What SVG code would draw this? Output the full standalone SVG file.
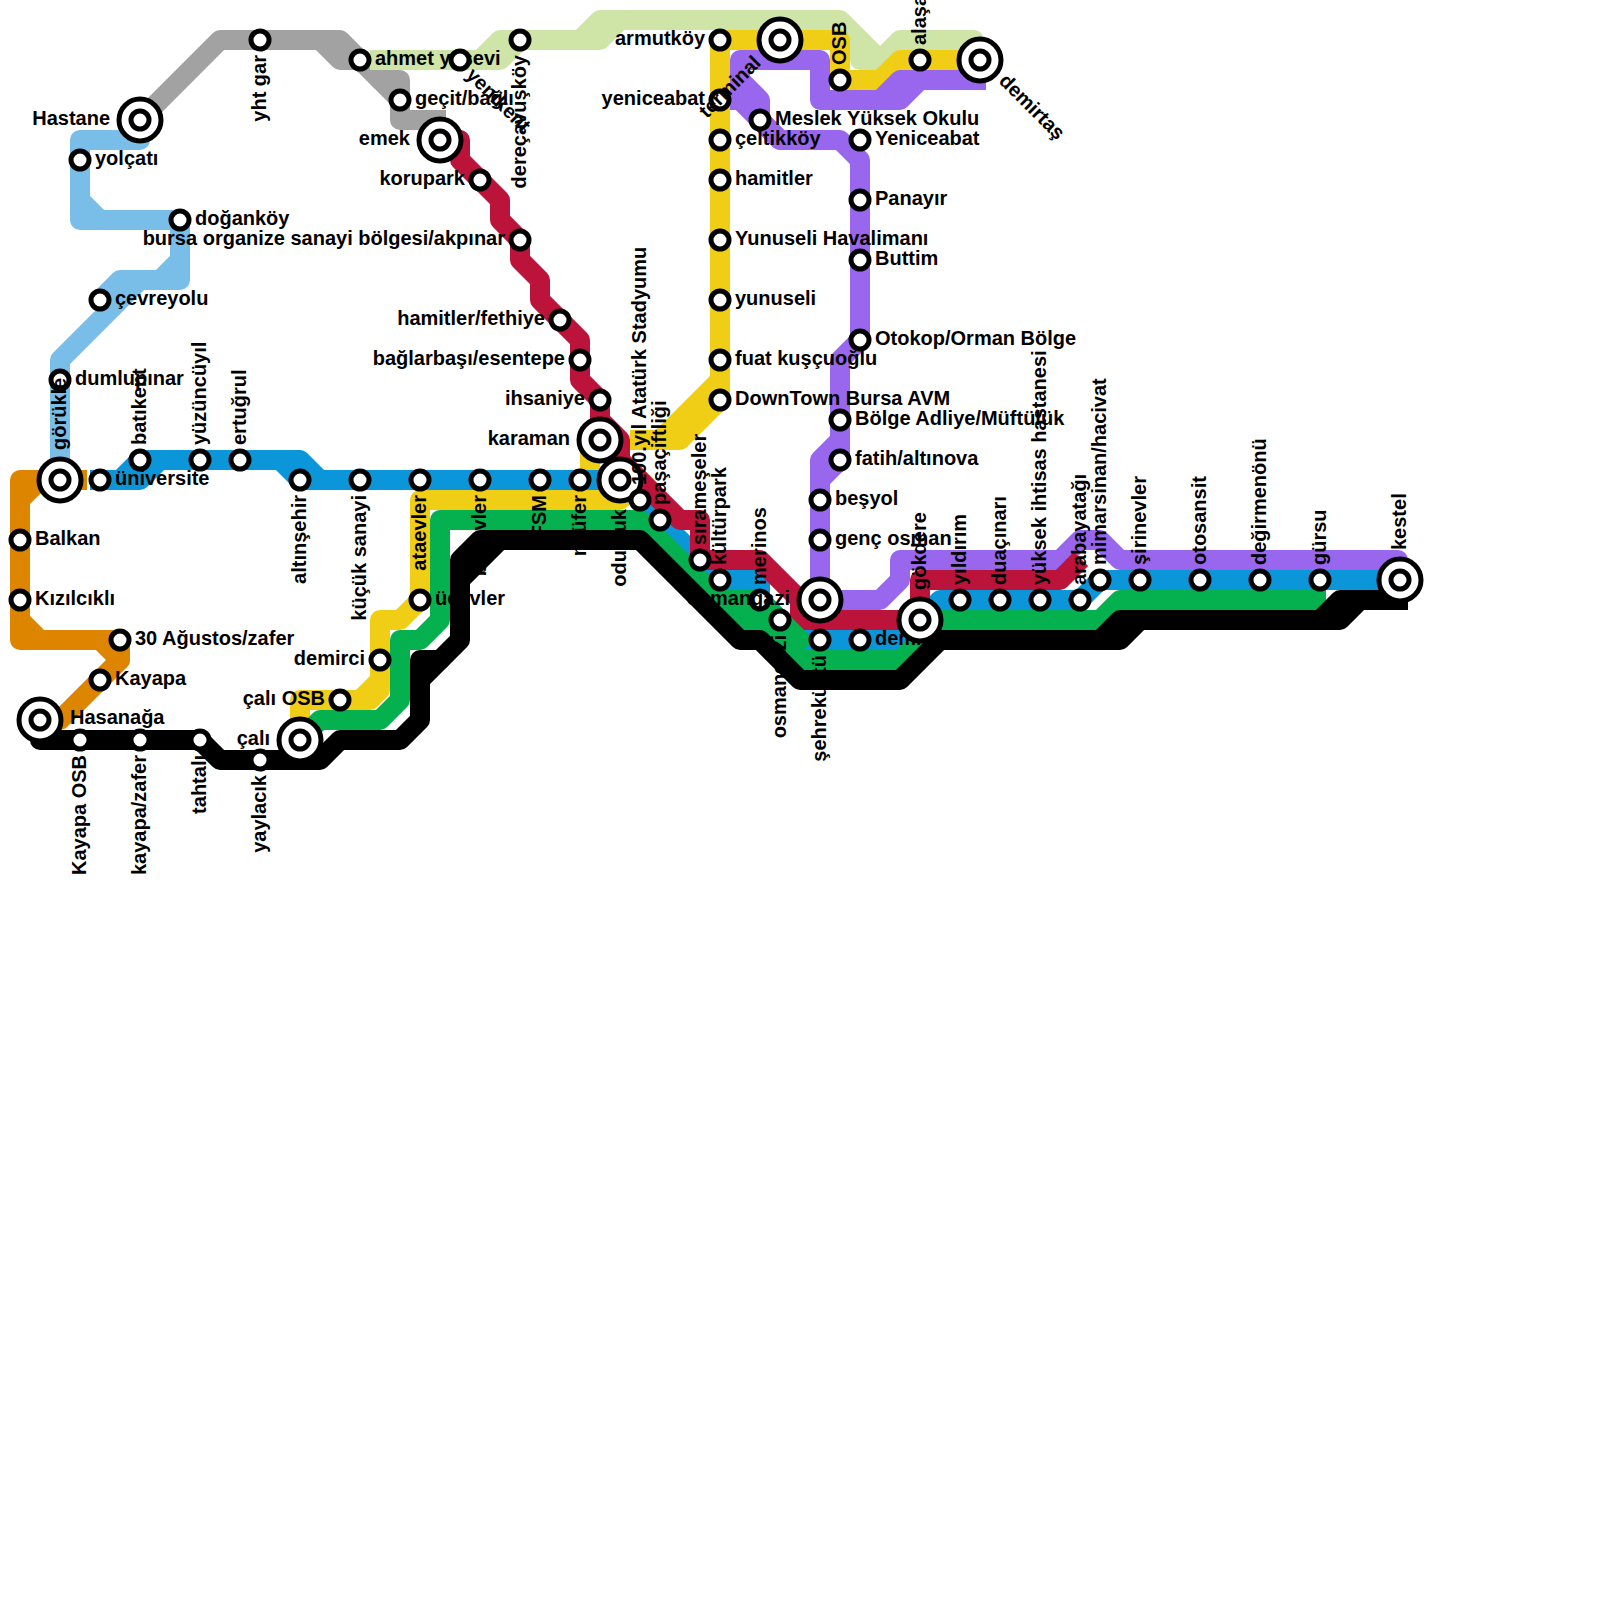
<svg xmlns="http://www.w3.org/2000/svg" width="1600" height="1600" viewBox="0 0 1600 1600">
<style>
.l{fill:none;stroke-width:20;stroke-linejoin:round;stroke-linecap:square}
.d{fill:none;stroke-width:20;stroke-linejoin:round;stroke-linecap:round}
.st{fill:#fff;stroke:#000;stroke-width:5}
.tm{fill:#fff;stroke:#000;stroke-width:5}
text{font-family:"Liberation Sans",Arial,sans-serif;font-weight:700;font-size:20px;fill:#000}
.e{text-anchor:end}
</style>
<rect width="1600" height="1600" fill="#fff"/>
<g id="connectors">
<path class="l" stroke="#79bde9" d="M140,120V140H80V220H180V280H140L60,360V480"/>
<path class="d" stroke="#79bde9" d="M80,200L100,220M100,300L120,280H160L180,260"/>
<path class="l" stroke="#de8500" d="M77,480H20V640H120V660L60,720H40"/>
<path class="d" stroke="#de8500" d="M40,480L20,500M20,620L40,640M100,640L120,660"/>
<path class="l" stroke="#a2a2a2" d="M140,120L220,40H340L400,100V120H436"/>
<path class="d" stroke="#a2a2a2" d="M320,40L340,60H360M380,80H400V100"/>
<path class="l" stroke="#cfe4a7" d="M380,60H500L520,40H580L600,20H840L880,60L900,40H974V60"/>
<path class="d" stroke="#cfe4a7" d="M480,60L500,40H520M580,40H600L620,20M860,40V60H880"/>
<path class="l" stroke="#f0ce15" d="M300,740V700H370L380,690V620H400L420,600V500H620L640,480M640,440H680L720,400V40H840V80H880L900,60H980"/>
<path class="d" stroke="#f0ce15" d="M380,680L360,700M720,380L660,440"/>
<path class="l" stroke="#f0ce15" d="M590,450V490"/>
<path class="l" stroke="#9966ee" d="M740,100V60H820V100H880L900,80H976M740,100L780,140H840L860,160V340L840,360V460L820,480V600H880L900,580V560H1060L1080,540H1100L1120,560H1398V580"/>
<path class="d" stroke="#9966ee" d="M880,100H900L920,80M740,80L760,100V120L780,140M840,440L820,460V480"/>
<path class="l" stroke="#0a96d8" d="M100,480H140L160,460H300L320,480H620L720,580H760V600L800,640H900L940,600H1080L1100,580H1400"/>
<path class="d" stroke="#0a96d8" d="M120,480L140,460H160M280,460L300,480H320"/>
<path class="l" stroke="#bb1339" d="M440,140H460V160L500,200V220L520,240V260L540,280V300L580,340V380L600,400V420L620,440V460L680,520H700V560H760L800,600V620H920V580H1060L1074,566"/>
<path class="l" stroke="#04b14e" d="M300,740L320,720H380L400,700V640H420L440,620V520H640L740,620H760L800,660H900L940,620H1100L1120,600H1316"/>
<path class="d" stroke="#04b14e" d="M720,600H760L800,640"/>
</g>
<g id="nodes">
<g id="n-hastane"><circle class="tm" cx="140" cy="120" r="21"/><circle class="st" cx="140" cy="120" r="9"/><text class="e" x="110" y="125">Hastane</text></g>
<g id="n-yolcati"><circle class="st" cx="80" cy="160" r="9"/><text x="95" y="165">yolçatı</text></g>
<g id="n-dogankoy"><circle class="st" cx="180" cy="220" r="9"/><text x="195" y="225">doğanköy</text></g>
<g id="n-cevreyolu"><circle class="st" cx="100" cy="300" r="9"/><text x="115" y="305">çevreyolu</text></g>
<g id="n-dumlupinar"><circle class="st" cx="60" cy="380" r="9"/><text x="75" y="385">dumlupınar</text></g>
<g id="n-universite"><circle class="st" cx="100" cy="480" r="9"/><text x="115" y="485">üniversite</text></g>
<g id="n-balkan"><circle class="st" cx="20" cy="540" r="9"/><text x="35" y="545">Balkan</text></g>
<g id="n-kizilcikli"><circle class="st" cx="20" cy="600" r="9"/><text x="35" y="605">Kızılcıklı</text></g>
<g id="n-30agustos"><circle class="st" cx="120" cy="640" r="9"/><text x="135" y="645">30 Ağustos/zafer</text></g>
<g id="n-kayapa"><circle class="st" cx="100" cy="680" r="9"/><text x="115" y="685">Kayapa</text></g>
<g id="n-gorukle"><circle class="tm" cx="60" cy="480" r="21"/><circle class="st" cx="60" cy="480" r="9"/><text transform="translate(66,450) rotate(-90)">görükle</text></g>
<g id="n-batikent"><circle class="st" cx="140" cy="460" r="9"/><text transform="translate(146,445) rotate(-90)">batıkent</text></g>
<g id="n-yuzuncuyil"><circle class="st" cx="200" cy="460" r="9"/><text transform="translate(206,445) rotate(-90)">yüzüncüyıl</text></g>
<g id="n-ertugrul"><circle class="st" cx="240" cy="460" r="9"/><text transform="translate(246,445) rotate(-90)">ertuğrul</text></g>
<g id="n-altinsehir"><circle class="st" cx="300" cy="480" r="9"/><text class="e" transform="translate(306,495) rotate(-90)">altınşehir</text></g>
<g id="n-kucuksanayi"><circle class="st" cx="360" cy="480" r="9"/><text class="e" transform="translate(366,495) rotate(-90)">küçük sanayi</text></g>
<g id="n-ataevler"><circle class="st" cx="420" cy="480" r="9"/><text class="e" transform="translate(426,495) rotate(-90)">ataevler</text></g>
<g id="n-besevler"><circle class="st" cx="480" cy="480" r="9"/><text class="e" transform="translate(486,495) rotate(-90)">beşevler</text></g>
<g id="n-fsm"><circle class="st" cx="540" cy="480" r="9"/><text class="e" transform="translate(546,495) rotate(-90)">FSM</text></g>
<g id="n-nilufer"><circle class="st" cx="580" cy="480" r="9"/><text class="e" transform="translate(586,495) rotate(-90)">nilüfer</text></g>
<g id="n-ucevler"><circle class="st" cx="420" cy="600" r="9"/><text x="435" y="605">üçevler</text></g>
<g id="n-demirci"><circle class="st" cx="380" cy="660" r="9"/><text class="e" x="365" y="665">demirci</text></g>
<g id="n-caliosb"><circle class="st" cx="340" cy="700" r="9"/><text class="e" x="325" y="705">çalı OSB</text></g>
<g id="n-yhtgar"><circle class="st" cx="260" cy="40" r="9"/><text class="e" transform="translate(266,55) rotate(-90)">yht gar</text></g>
<g id="n-ahmetyesevi"><circle class="st" cx="360" cy="60" r="9"/><text x="375" y="65">ahmet yesevi</text></g>
<g id="n-yenikent"><circle class="st" cx="460" cy="60" r="9"/><text transform="translate(465,76) rotate(45)">yenikent</text></g>
<g id="n-gecit"><circle class="st" cx="400" cy="100" r="9"/><text x="415" y="105">geçit/bağlı</text></g>
<g id="n-derecavuskoy"><circle class="st" cx="520" cy="40" r="9"/><text class="e" transform="translate(526,55) rotate(-90)">dereçavuşköy</text></g>
<g id="n-emek"><circle class="tm" cx="440" cy="140" r="21"/><circle class="st" cx="440" cy="140" r="9"/><text class="e" x="410" y="145">emek</text></g>
<g id="n-korupark"><circle class="st" cx="480" cy="180" r="9"/><text class="e" x="465" y="185">korupark</text></g>
<g id="n-akpinar"><circle class="st" cx="520" cy="240" r="9"/><text class="e" x="505" y="245">bursa organize sanayi bölgesi/akpınar</text></g>
<g id="n-fethiye"><circle class="st" cx="560" cy="320" r="9"/><text class="e" x="545" y="325">hamitler/fethiye</text></g>
<g id="n-esentepe"><circle class="st" cx="580" cy="360" r="9"/><text class="e" x="565" y="365">bağlarbaşı/esentepe</text></g>
<g id="n-ihsaniye"><circle class="st" cx="600" cy="400" r="9"/><text class="e" x="585" y="405">ihsaniye</text></g>
<g id="n-karaman"><circle class="tm" cx="600" cy="440" r="21"/><circle class="st" cx="600" cy="440" r="9"/><text class="e" x="570" y="445">karaman</text></g>
<g id="n-odunluk"><circle class="tm" cx="620" cy="480" r="21"/><circle class="st" cx="620" cy="480" r="9"/><text class="e" transform="translate(626,509) rotate(-90)">odunluk</text></g>
<g id="n-stadyum"><circle class="st" cx="640" cy="500" r="9"/><text transform="translate(646,485) rotate(-90)">100.yıl Atatürk Stadyumu</text></g>
<g id="n-pasaciftligi"><circle class="st" cx="660" cy="520" r="9"/><text transform="translate(666,505) rotate(-90)">paşaçiftliği</text></g>
<g id="n-sirameseler"><circle class="st" cx="700" cy="560" r="9"/><text transform="translate(706,545) rotate(-90)">sırameşeler</text></g>
<g id="n-kulturpark"><circle class="st" cx="720" cy="580" r="9"/><text transform="translate(726,565) rotate(-90)">kültürpark</text></g>
<g id="n-merinos"><circle class="st" cx="760" cy="600" r="9"/><text transform="translate(766,585) rotate(-90)">merinos</text></g>
<g id="n-osman2"><circle class="st" cx="780" cy="620" r="9"/><text class="e" transform="translate(786,635) rotate(-90)">osmangazi</text></g>
<g id="n-sehrekustu"><circle class="st" cx="820" cy="640" r="9"/><text class="e" transform="translate(826,655) rotate(-90)">şehreküstü</text></g>
<g id="n-demirtaspasa"><circle class="st" cx="860" cy="640" r="9"/><text x="875" y="645">demirtaşpaşa</text></g>
<g id="n-osmangazi"><circle class="tm" cx="820" cy="600" r="21"/><circle class="st" cx="820" cy="600" r="9"/><text class="e" x="790" y="605">osmangazi</text></g>
<g id="n-armutkoy"><circle class="st" cx="720" cy="40" r="9"/><text class="e" x="705" y="45">armutköy</text></g>
<g id="n-yeniceabat2"><circle class="st" cx="720" cy="100" r="9"/><text class="e" x="705" y="105">yeniceabat</text></g>
<g id="n-terminal"><circle class="tm" cx="780" cy="40" r="21"/><circle class="st" cx="780" cy="40" r="9"/><text class="e" transform="translate(762,64) rotate(-45)">terminal</text></g>
<g id="n-meslek"><circle class="st" cx="760" cy="120" r="9"/><text x="775" y="125">Meslek Yüksek Okulu</text></g>
<g id="n-celtikkoy"><circle class="st" cx="720" cy="140" r="9"/><text x="735" y="145">çeltikköy</text></g>
<g id="n-hamitler"><circle class="st" cx="720" cy="180" r="9"/><text x="735" y="185">hamitler</text></g>
<g id="n-havalimani"><circle class="st" cx="720" cy="240" r="9"/><text x="735" y="245">Yunuseli Havalimanı</text></g>
<g id="n-yunuseli"><circle class="st" cx="720" cy="300" r="9"/><text x="735" y="305">yunuseli</text></g>
<g id="n-fuat"><circle class="st" cx="720" cy="360" r="9"/><text x="735" y="365">fuat kuşçuoğlu</text></g>
<g id="n-downtown"><circle class="st" cx="720" cy="400" r="9"/><text x="735" y="405">DownTown Bursa AVM</text></g>
<g id="n-osb"><circle class="st" cx="840" cy="80" r="9"/><text transform="translate(846,65) rotate(-90)">OSB</text></g>
<g id="n-alasar"><circle class="st" cx="920" cy="60" r="9"/><text transform="translate(926,45) rotate(-90)">alaşar</text></g>
<g id="n-demirtas"><circle class="tm" cx="980" cy="60" r="21"/><circle class="st" cx="980" cy="60" r="9"/><text transform="translate(998,82) rotate(45)">demirtaş</text></g>
<g id="n-yeniceabat"><circle class="st" cx="860" cy="140" r="9"/><text x="875" y="145">Yeniceabat</text></g>
<g id="n-panayir"><circle class="st" cx="860" cy="200" r="9"/><text x="875" y="205">Panayır</text></g>
<g id="n-buttim"><circle class="st" cx="860" cy="260" r="9"/><text x="875" y="265">Buttim</text></g>
<g id="n-otokop"><circle class="st" cx="860" cy="340" r="9"/><text x="875" y="345">Otokop/Orman Bölge</text></g>
<g id="n-adliye"><circle class="st" cx="840" cy="420" r="9"/><text x="855" y="425">Bölge Adliye/Müftülük</text></g>
<g id="n-fatih"><circle class="st" cx="840" cy="460" r="9"/><text x="855" y="465">fatih/altınova</text></g>
<g id="n-besyol"><circle class="st" cx="820" cy="500" r="9"/><text x="835" y="505">beşyol</text></g>
<g id="n-gencosman"><circle class="st" cx="820" cy="540" r="9"/><text x="835" y="545">genç osman</text></g>
<g id="n-yildirim"><circle class="st" cx="960" cy="600" r="9"/><text transform="translate(966,585) rotate(-90)">yıldırım</text></g>
<g id="n-duacinari"><circle class="st" cx="1000" cy="600" r="9"/><text transform="translate(1006,585) rotate(-90)">duaçınarı</text></g>
<g id="n-ihtisas"><circle class="st" cx="1040" cy="600" r="9"/><text transform="translate(1046,585) rotate(-90)">yüksek ihtisas hastanesi</text></g>
<g id="n-arabayatagi"><circle class="st" cx="1080" cy="600" r="9"/><text transform="translate(1086,585) rotate(-90)">arabayatağı</text></g>
<g id="n-mimarsinan"><circle class="st" cx="1100" cy="580" r="9"/><text transform="translate(1106,565) rotate(-90)">mimarsinan/hacivat</text></g>
<g id="n-sirinevler"><circle class="st" cx="1140" cy="580" r="9"/><text transform="translate(1146,565) rotate(-90)">şirinevler</text></g>
<g id="n-otosansit"><circle class="st" cx="1200" cy="580" r="9"/><text transform="translate(1206,565) rotate(-90)">otosansit</text></g>
<g id="n-degirmenonu"><circle class="st" cx="1260" cy="580" r="9"/><text transform="translate(1266,565) rotate(-90)">değirmenönü</text></g>
<g id="n-gursu"><circle class="st" cx="1320" cy="580" r="9"/><text transform="translate(1326,565) rotate(-90)">gürsu</text></g>
<g id="n-tahtali-label"><text class="e" transform="translate(206,755) rotate(-90)">tahtalı</text></g>
</g>
<g id="connectors-top">
<path class="l" stroke="#000" d="M40,720V740H200L220,760H320L340,740H400L420,720V660H440L460,640V560L480,540H640L740,640H760L800,680H900L940,640H1120L1140,620H1340L1360,600H1398"/>
<path class="d" stroke="#000" d="M500,540L460,580M420,680L440,660M1100,640L1120,620H1140M1320,620L1340,600H1360"/>
</g>
<g id="nodes-top">
<g id="n-gokdere"><circle class="tm" cx="920" cy="620" r="21"/><circle class="st" cx="920" cy="620" r="9"/><text transform="translate(926,590) rotate(-90)">gökdere</text></g>
<g id="n-kestel"><circle class="tm" cx="1400" cy="580" r="21"/><circle class="st" cx="1400" cy="580" r="9"/><text transform="translate(1406,550) rotate(-90)">kestel</text></g>
<g id="n-hasanaga"><circle class="tm" cx="40" cy="720" r="21"/><circle class="st" cx="40" cy="720" r="9"/><text x="70" y="724">Hasanağa</text></g>
<g id="n-kayapaosb"><circle class="st" cx="80" cy="740" r="9"/><text class="e" transform="translate(86,755) rotate(-90)">Kayapa OSB</text></g>
<g id="n-kayapazafer"><circle class="st" cx="140" cy="740" r="9"/><text class="e" transform="translate(146,755) rotate(-90)">kayapa/zafer</text></g>
<g id="n-tahtali"><circle class="st" cx="200" cy="740" r="9"/></g>
<g id="n-yaylacik"><circle class="st" cx="260" cy="760" r="9"/><text class="e" transform="translate(266,775) rotate(-90)">yaylacık</text></g>
<g id="n-cali"><circle class="tm" cx="300" cy="740" r="21"/><circle class="st" cx="300" cy="740" r="9"/><text class="e" x="270" y="745">çalı</text></g>
</g>
</svg>
